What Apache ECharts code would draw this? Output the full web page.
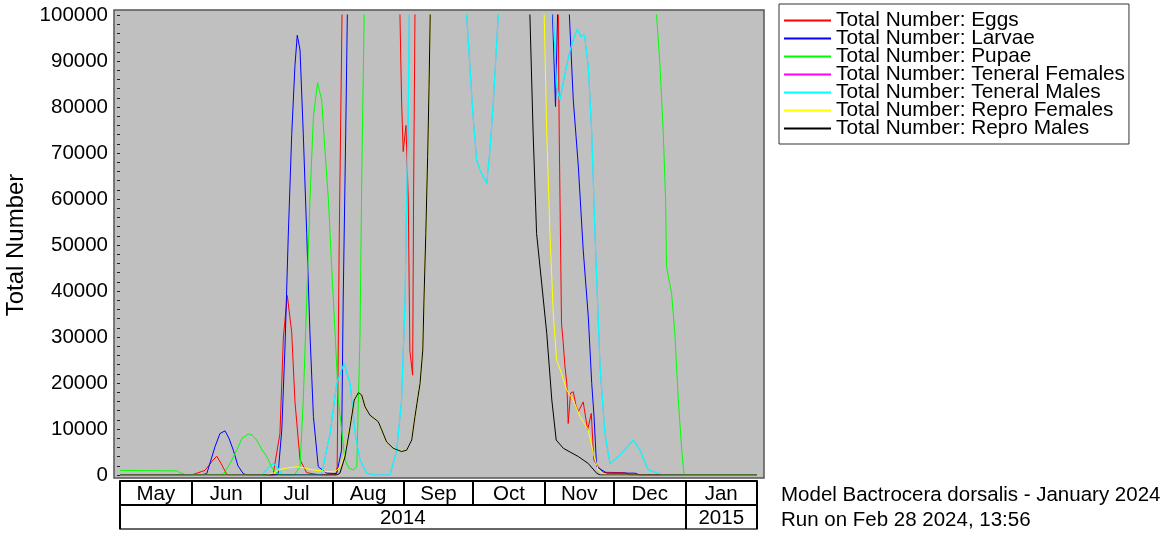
<!DOCTYPE html>
<html>
<head>
<meta charset="utf-8">
<title>Total Number</title>
<script src="https://cdn.jsdelivr.net/npm/echarts@6.0.0/dist/echarts.min.js"></script>
<style>
  html, body { margin: 0; padding: 0; background: #fff; }
  #chart { width: 1167px; height: 533px; }
</style>
</head>
<body>
<div id="chart"></div>
<script>
// x = days since 1 May 2014, y = total number
var months = ['May', 'Jun', 'Jul', 'Aug', 'Sep', 'Oct', 'Nov', 'Dec', 'Jan'];
var monthStarts = [0, 31, 61, 92, 123, 153, 184, 214, 245, 276];
var years = ['2014', '2015'];
var yearStarts = [0, 245, 276];
var yTicks = [0, 100000, 10000];

var eggs = [[0,0],[31,0],[36.8,1000],[39.9,3000],[41.9,4100],[43.8,2500],[46.4,0],[66.3,0],[69.3,9000],[70.8,30000],[72.5,39000],[74.4,31000],[75.8,16000],[78,3300],[80.9,500],[86.7,0],[93.5,0],[94.1,1800],[95,52000],[96.2,100000],[100,150000],[118,150000],[121.3,100000],[122,81500],[122.7,70300],[123.9,76000],[124.9,60000],[125.6,27000],[126.8,21700],[127.2,60000],[127.8,100000],[130,150000],[187,150000],[189.9,100000],[190.3,74300],[191.3,33000],[192,29000],[192.8,23500],[193.6,20000],[194.2,11200],[195.2,17800],[196.4,18100],[197.6,15000],[198.6,13800],[200.7,15900],[202.6,9800],[204.2,13400],[205.3,3300],[207.2,1800],[209.3,600],[218.8,500],[221,0],[276,0]];
var larvae = [[0,0],[34.7,0],[37.6,300],[41.2,6200],[43.3,9000],[45.5,9600],[47.2,8000],[49.1,5400],[51.1,2000],[53.4,300],[55,0],[67.5,0],[68.5,300],[70.1,9800],[71.5,28000],[72.9,52000],[74.4,74000],[75.8,89000],[76.8,95600],[78,92400],[79.4,74300],[80.9,52500],[82.3,30800],[83.8,12700],[85.9,1800],[89.5,400],[93.9,300],[96,5400],[96.7,38000],[97.8,74300],[98.5,100000],[101,150000],[185,150000],[187.4,100000],[188.7,80100],[189.6,100000],[191,150000],[193,150000],[194.7,100000],[196.4,81500],[198.6,67000],[200.7,48900],[202.9,34400],[204.4,19900],[205.4,12700],[206.5,1800],[210.9,400],[223.1,400],[225.3,0],[276,0]];
var pupae = [[0,1000],[10,950],[24.6,900],[26,500],[28.9,0],[44.6,0],[47.7,2500],[50.6,5400],[52.9,8000],[55.6,8900],[57.2,8700],[59.2,7600],[61.5,5500],[63.6,4000],[65.9,1500],[67.9,400],[69.3,0],[75.5,0],[76.3,300],[78,1800],[79.4,16300],[80.9,38000],[82.3,59800],[83.8,77900],[85.6,85300],[87.4,81500],[88.8,70700],[90.3,59800],[91.7,45300],[93.2,30800],[94.6,16300],[97.5,3300],[99.2,1500],[101.1,1100],[102.6,1800],[104,30800],[104.8,67000],[105.8,100000],[108,150000],[230,150000],[232.5,100000],[234,88800],[235.4,74300],[236.4,59800],[236.8,45300],[239,39500],[240.4,30800],[241.9,16300],[243.4,5400],[244.4,0],[276,0]];
var tenMales = [[0,0],[61.5,0],[64.1,1500],[66.4,2500],[68.5,1500],[70.2,0],[85.8,0],[87.4,300],[91,9000],[93.9,19900],[97.1,24300],[99.7,19900],[101.9,9000],[104,3300],[106.9,400],[110.5,0],[117,0],[119.9,5400],[122,16300],[123.5,38000],[124.2,59800],[124.9,77900],[125.3,100000],[127.5,150000],[148,150000],[150.2,100000],[151.6,88800],[153,77900],[154.5,68500],[156,66300],[158.9,63400],[160.3,70700],[161.8,81500],[163.9,100000],[166,150000],[185.5,150000],[187.7,100000],[189.2,84400],[190.6,81500],[192.8,87300],[194.7,91700],[196.3,94500],[198.1,96900],[199.7,95300],[201.2,95700],[202.9,88800],[204.4,74300],[205.8,52500],[208,23500],[210.1,9000],[212.3,2500],[216.6,4300],[222.4,7600],[225.3,5400],[228.9,1100],[235.4,0],[276,0]];
// teneral females sit exactly under the teneral males line
var tenFemales = tenMales;
var reproFemales = [[0,0],[63.3,0],[66.4,400],[69.3,1200],[72.2,1500],[76.6,1800],[80.2,1500],[83.8,1100],[88.8,800],[92.4,700],[94,1000],[95.3,1800],[97.5,4700],[99.7,11000],[101.5,16300],[103.3,17900],[104.7,17400],[106.2,14800],[108.3,13000],[111.9,11600],[113.4,9800],[115.5,7200],[118.4,5800],[122,5100],[124.2,5400],[126.4,7600],[127.8,12700],[130,19900],[131.2,27200],[131.7,38000],[132.5,52500],[133.3,69200],[133.9,84400],[134.4,100000],[137,150000],[181,150000],[183.8,100000],[184.9,74300],[186.3,52500],[187.8,34400],[189.2,25000],[191.3,22100],[193.5,18500],[196.4,16300],[199.3,12700],[202.9,9800],[205.1,4700],[207.2,1100],[210.1,0],[276,0]];
var reproMales = [[0,0],[94,0],[95.3,400],[97.5,4000],[99.7,10500],[101.5,16300],[103.3,17900],[104.7,17400],[106.2,14800],[108.3,13000],[111.9,11600],[113.4,9800],[115.5,7200],[118.4,5800],[122,5100],[124.2,5400],[126.4,7600],[127.8,12700],[130,19900],[131.2,27200],[131.7,38000],[132.5,52500],[133.3,69200],[133.9,84400],[134.4,100000],[137,150000],[175,150000],[177.6,100000],[179,74300],[180.5,52500],[182.7,41700],[184.9,30800],[187.1,16300],[189,7600],[192.1,5800],[198.6,4000],[202.9,2500],[206.5,400],[208,0],[276,0]];

var seriesNames = ['Total Number: Eggs', 'Total Number: Larvae', 'Total Number: Pupae',
  'Total Number: Teneral Females', 'Total Number: Teneral Males',
  'Total Number: Repro Females', 'Total Number: Repro Males'];
var seriesData = [eggs, larvae, pupae, tenFemales, tenMales, reproFemales, reproMales];
var colors = ['#ff0000', '#0000ff', '#00ff00', '#ff00ff', '#00ffff', '#ffff00', '#000000'];
// hidden magenta line is thin so it does not tint the cyan one drawn over it
var widths = [1, 1, 1, 0.4, 1.2, 1, 1];

var font = "'Liberation Sans', Arial, sans-serif";
var fs = 20.5;

function midPoints(starts) {
  var mids = [];
  for (var i = 0; i < starts.length - 1; i++) mids.push((starts[i] + starts[i + 1]) / 2);
  return mids;
}
var monthMids = midPoints(monthStarts);
var yearMids = midPoints(yearStarts);

var series = seriesData.map(function (d, i) {
  return {
    name: seriesNames[i],
    type: 'line',
    data: d,
    showSymbol: false,
    symbol: 'none',
    animation: false,
    lineStyle: { width: widths[i], color: colors[i] },
    itemStyle: { color: colors[i] }
  };
});

var boxAxis = function (offset, ticks, labels, mids, color) {
  return {
    type: 'value', min: 0, max: 276, position: 'bottom', offset: offset,
    axisLine: { show: true, onZero: false, lineStyle: { color: color, width: 2 } },
    axisTick: { show: !!ticks, customValues: ticks || [], length: 24, lineStyle: { color: '#000', width: 2 } },
    axisLabel: {
      show: !!labels, customValues: mids || [], margin: 3,
      fontSize: fs, fontFamily: font, color: '#000',
      formatter: function (v) { return labels ? labels[mids.indexOf(v)] : ''; }
    },
    splitLine: { show: false }
  };
};

var chart = echarts.init(document.getElementById('chart'), null, { renderer: 'canvas' });
chart.setOption({
  animation: false,
  backgroundColor: '#fff',
  textStyle: { fontFamily: font },
  grid: { left: 120, right: 410, top: 15, bottom: 58, outerBoundsMode: 'none', containLabel: false },
  graphic: [
    { type: 'rect', z: -10, shape: { x: 114, y: 10, width: 650, height: 468 },
      style: { fill: '#c0c0c0', stroke: '#555', lineWidth: 1.5 } },
    { type: 'text', x: 781, y: 495, style: { text: 'Model Bactrocera dorsalis - January 2024',
      font: fs + 'px ' + font, fill: '#000', verticalAlign: 'middle' } },
    { type: 'text', x: 781, y: 520, style: { text: 'Run on Feb 28 2024, 13:56',
      font: fs + 'px ' + font, fill: '#000', verticalAlign: 'middle' } }
  ],
  legend: {
    orient: 'vertical', left: 779, top: 4,
    backgroundColor: '#fff', borderColor: '#333', borderWidth: 1,
    padding: [6, 4, 5, 5], itemGap: -3, itemWidth: 47, itemHeight: 2,
    icon: 'rect', selectedMode: false,
    textStyle: { fontSize: 20.8, fontFamily: font, color: '#000' },
    data: seriesNames
  },
  xAxis: [
    { type: 'value', min: 0, max: 276, show: false },
    boxAxis(6, monthStarts, months, monthMids, '#000'),
    boxAxis(30, yearStarts, years, yearMids, '#000'),
    boxAxis(54, null, null, null, '#666')
  ],
  yAxis: {
    type: 'value', min: yTicks[0], max: yTicks[1], interval: yTicks[2], offset: 6,
    name: 'Total Number', nameLocation: 'middle', nameGap: 80,
    nameTextStyle: { fontSize: 24, fontFamily: font, color: '#000' },
    axisLine: { show: false },
    axisTick: { show: true, length: 3, lineStyle: { color: '#222' } },
    minorTick: { show: true, splitNumber: 5, length: 3, lineStyle: { color: '#222' } },
    axisLabel: { fontSize: fs, fontFamily: font, color: '#000', margin: 6,
      formatter: function (v) { return String(v); } },
    splitLine: { show: false }
  },
  series: series
});
</script>
</body>
</html>
